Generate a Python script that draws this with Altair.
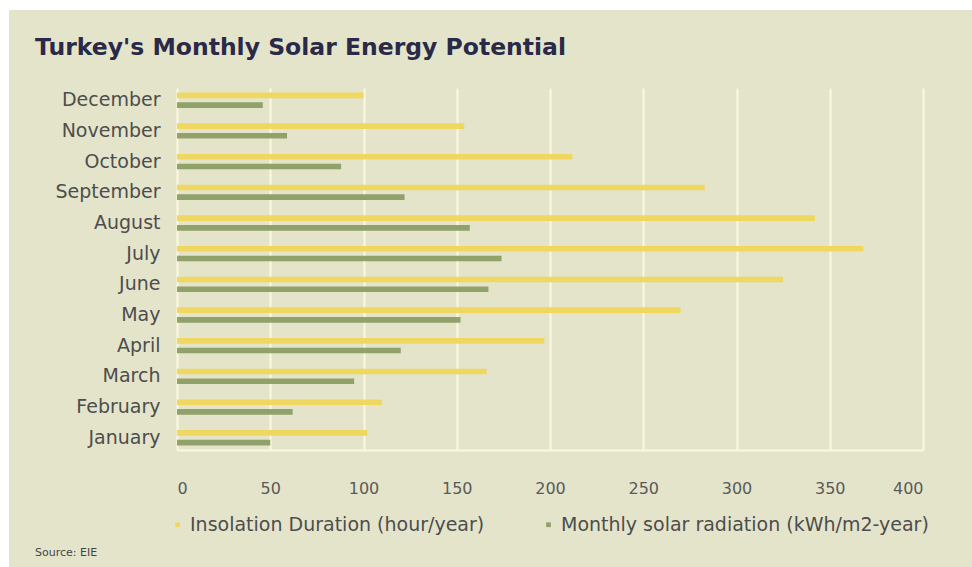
import altair as alt
import pandas as pd

# Months listed top to bottom as they appear on the chart
months = ["December", "November", "October", "September", "August", "July",
          "June", "May", "April", "March", "February", "January"]
insolation = [100, 154, 212, 283, 342, 368, 325, 270, 197, 166, 110, 102]
radiation = [46, 59, 88, 122, 157, 174, 167, 152, 120, 95, 62, 50]

series = ["Insolation Duration (hour/year)", "Monthly solar radiation (kWh/m2-year)"]
colors = ["#efd65a", "#8c9d64"]
x_ticks = [0, 50, 100, 150, 200, 250, 300, 350, 400]
title_text = "Turkey's Monthly Solar Energy Potential"
source_text = "Source: EIE"

rows = []
for m, a, b in zip(months, insolation, radiation):
    rows.append({"month": m, "series": series[0], "value": a})
    rows.append({"month": m, "series": series[1], "value": b})
df = pd.DataFrame(rows)

BG = "#e4e4cb"
GRID = "#fbf8df"
FONT = "DejaVu Sans"

bars = alt.Chart(df).mark_bar(opacity=0.95).encode(
    x=alt.X(
        "value:Q",
        scale=alt.Scale(domain=[0, 400], nice=False),
        axis=alt.Axis(
            values=x_ticks, title=None, grid=True, gridColor=GRID, gridWidth=2,
            domainColor=GRID, domainWidth=2, ticks=False, labelPadding=30,
            labelFontSize=16, labelColor="#5a5a5a", labelFont=FONT,
        ),
    ),
    y=alt.Y(
        "month:N", sort=months,
        scale=alt.Scale(paddingInner=0.5, paddingOuter=0.15),
        axis=alt.Axis(
            title=None, ticks=False, domain=False, labelPadding=17,
            labelFontSize=19, labelColor="#4d4d4d", labelFont=FONT,
        ),
    ),
    yOffset=alt.YOffset("series:N", sort=series, scale=alt.Scale(paddingInner=0.42)),
    color=alt.Color(
        "series:N", sort=series,
        scale=alt.Scale(domain=series, range=colors),
        legend=alt.Legend(
            title=None, orient="none", direction="horizontal",
            legendX=-9, legendY=427, symbolType="square", symbolSize=22,
            symbolStrokeWidth=0, labelFontSize=19, labelColor="#4d4d4d",
            labelFont=FONT, labelOffset=3, columnPadding=54, labelLimit=600,
        ),
    ),
)

title = alt.Chart(pd.DataFrame({"t": [title_text]})).mark_text(
    align="left", baseline="alphabetic", fontSize=23.5, font=FONT,
    fontWeight="bold", color="#2a2a48",
).encode(text="t:N", x=alt.value(-142), y=alt.value(-33))

source = alt.Chart(pd.DataFrame({"t": [source_text]})).mark_text(
    align="left", baseline="alphabetic", fontSize=11, font=FONT, color="#444444"
).encode(text="t:N", x=alt.value(-142), y=alt.value(468))

# Thin white frame along the top and left edges of the card
frame = alt.Chart(pd.DataFrame({"k": ["top", "left"],
                                "x": [-177, -177], "x2": [795, -168],
                                "y": [-88, -88], "y2": [-78, 479]})).mark_rect(
    color="white"
).encode(x=alt.X("x:Q", scale=None), x2="x2:Q", y=alt.Y("y:Q", scale=None), y2="y2:Q")

chart = alt.layer(bars, title, source, frame).properties(
    width=746,
    height=362,
    autosize=alt.AutoSizeParams(type="none"),
    padding={"left": 177, "top": 88, "right": 49, "bottom": 117},
).configure(background=BG).configure_view(stroke=None)

chart.save("out.html", embed_options={"renderer": "svg", "actions": False})
